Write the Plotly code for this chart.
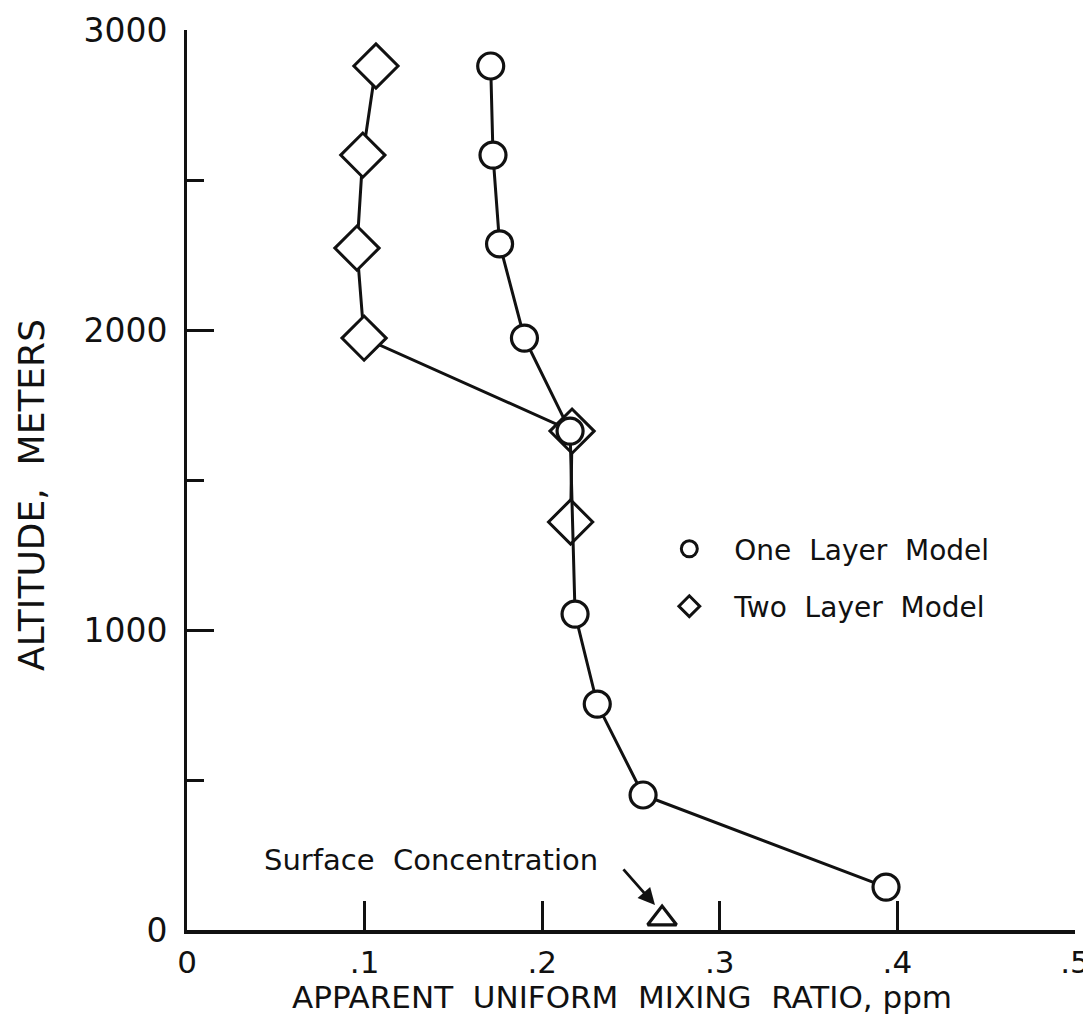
import plotly.graph_objects as go

# One layer model (circles)
one_x = [0.171, 0.1723, 0.176, 0.190, 0.2157, 0.2185, 0.231, 0.2568, 0.3936]
one_y = [2880, 2583, 2287, 1973, 1663, 1053, 753, 450, 143]

# Two layer model (diamonds)
two_x = [0.1064, 0.099, 0.0957, 0.0997, 0.2168, 0.216]
two_y = [2880, 2583, 2273, 1973, 1663, 1360]

# Surface concentration (triangle)
surf_x = [0.2675]
surf_y = [38]

x_ticks = [0, 0.1, 0.2, 0.3, 0.4, 0.5]
x_ticktext = ["0", ".1", ".2", ".3", ".4", ".5"]
y_ticks = [0, 1000, 2000, 3000]
y_ticktext = ["0", "1000", "2000", "3000"]
y_minor = [500, 1500, 2500]

FONT = "DejaVu Sans"
BLACK = "#111111"

fig = go.Figure()

fig.add_trace(go.Scatter(
    x=two_x, y=two_y, mode="lines+markers", showlegend=False,
    line=dict(color=BLACK, width=3),
    marker=dict(symbol="diamond", size=34, color="white", line=dict(color=BLACK, width=3)),
))
fig.add_trace(go.Scatter(
    x=one_x, y=one_y, mode="lines+markers", showlegend=False,
    line=dict(color=BLACK, width=3),
    marker=dict(symbol="circle", size=26, color="white", line=dict(color=BLACK, width=3.2)),
))
fig.add_trace(go.Scatter(
    x=surf_x, y=surf_y, mode="markers", showlegend=False,
    marker=dict(symbol="triangle-up", size=25, color="white", line=dict(color=BLACK, width=3.2)),
))

# legend-only traces
fig.add_trace(go.Scatter(
    x=[None], y=[None], mode="markers", name="One  Layer  Model", legendgroup="a",
    marker=dict(symbol="circle", size=24, color="white", line=dict(color=BLACK, width=3)),
))
fig.add_trace(go.Scatter(
    x=[None], y=[None], mode="markers", name="Two  Layer  Model", legendgroup="b",
    marker=dict(symbol="diamond", size=30, color="white", line=dict(color=BLACK, width=3)),
))

fig.add_annotation(
    x=0.1374, y=233, xref="x", yref="y", text="Surface  Concentration",
    showarrow=False, font=dict(family=FONT, size=29, color=BLACK),
)
fig.add_annotation(
    x=0.2635, y=83, ax=0.245, ay=207, xref="x", yref="y", axref="x", ayref="y",
    text="", showarrow=True, arrowhead=2, arrowsize=1.2, arrowwidth=2.8, arrowcolor=BLACK,
)

# axis titles
fig.add_annotation(
    x=0.49, y=-0.0745, xref="paper", yref="paper", xanchor="center", yanchor="middle",
    text="APPARENT  UNIFORM  MIXING  RATIO, ppm", showarrow=False,
    font=dict(family=FONT, size=31, color=BLACK),
)
fig.add_annotation(
    x=-0.175, y=0.483, xref="paper", yref="paper", xanchor="center", yanchor="middle",
    text="ALTITUDE,  METERS", textangle=-90, showarrow=False,
    font=dict(family=FONT, size=36, color=BLACK),
)

fig.update_layout(
    width=1091, height=1036,
    margin=dict(l=179, r=24, t=22, b=114, autoexpand=False),
    paper_bgcolor="white", plot_bgcolor="white",
    font=dict(family=FONT, size=26, color=BLACK),
    legend=dict(
        x=0.515, y=0.451, xanchor="left", yanchor="top",
        font=dict(family=FONT, size=28, color=BLACK),
        bgcolor="rgba(0,0,0,0)", tracegroupgap=18, itemwidth=80,
    ),
    xaxis=dict(
        range=[0, 0.5], tickvals=x_ticks, ticktext=x_ticktext,
        ticks="inside", ticklen=29, tickwidth=2.5, tickcolor=BLACK,
        showline=True, linewidth=4, linecolor=BLACK,
        showgrid=False, zeroline=False, automargin=False,
        ticklabelstandoff=2,
        tickfont=dict(family=FONT, size=31, color=BLACK),
    ),
    yaxis=dict(
        range=[0, 3000], tickvals=y_ticks, ticktext=y_ticktext,
        ticks="inside", ticklen=27, tickwidth=3, tickcolor=BLACK,
        minor=dict(tickvals=y_minor, ticks="inside", ticklen=17, tickwidth=3, tickcolor=BLACK),
        showline=True, linewidth=3, linecolor=BLACK,
        showgrid=False, zeroline=False, automargin=False,
        ticklabelstandoff=10,
        tickfont=dict(family=FONT, size=33, color=BLACK),
    ),
)

fig.write_html("out.html")
